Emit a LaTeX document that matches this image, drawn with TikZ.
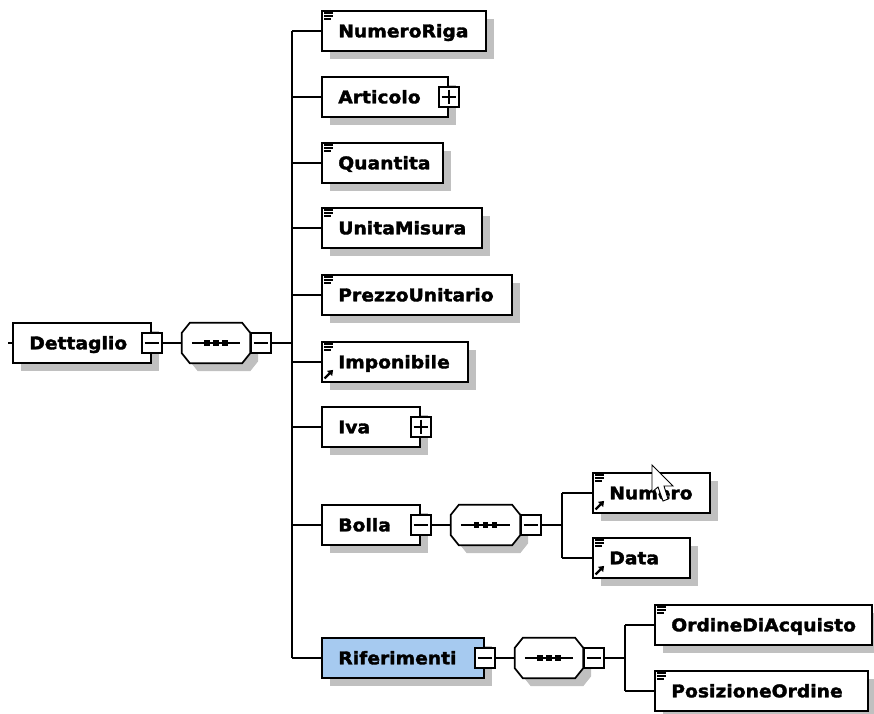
\documentclass[tikz,border=0pt]{standalone}
\usepackage{fontspec}
\setmainfont{DejaVu Sans}[FakeStretch=1.07, BoldFeatures={FakeBold=2}]
\usetikzlibrary{calc,shadows,arrows.meta}
\definecolor{shadowc}{RGB}{192,192,192}
\definecolor{selblue}{HTML}{A6CAF0}
\newcommand\octpath[3]{($(#1.north west)+(8+#2,#3)$) -- ($(#1.north east)+(-8+#2,#3)$) -- ($(#1.north east)+(#2,10+#3)$) -- ($(#1.south east)+(#2,-10+#3)$) -- ($(#1.south east)+(-8+#2,#3)$) -- ($(#1.south west)+(8+#2,#3)$) -- ($(#1.south west)+(#2,-10+#3)$) -- ($(#1.north west)+(#2,10+#3)$) -- cycle}
\newcommand\octo[1]{%
  \fill[shadowc] \octpath{#1}{8}{8};
  \filldraw[fill=white, draw=black, line width=1.7pt] \octpath{#1}{0}{0};
  \draw[line width=1.5pt] ($(#1.west)+(10,0)$) -- ($(#1.east)+(-10,0)$);
  \foreach \dx in {-9,0,9} \fill ($(#1.center)+(\dx-2.7,-2.7)$) rectangle ($(#1.center)+(\dx+2.7,2.7)$);
}
\newcommand\minusbox[2]{%
  \node[pmbox, #2] (#1) {};
  \draw[line width=1.4pt] ($(#1.west)+(3.5,0)$) -- ($(#1.east)+(-3.5,0)$);}
\newcommand\plusbox[2]{\minusbox{#1}{#2}
  \draw[line width=1.4pt] ($(#1.north)+(0,3.5)$) -- ($(#1.south)+(0,-3.5)$);}
\newcommand\elem[6]{% name, left, cy, width, text, extra style
  \node[elbox, minimum width=#4, #6] (#1) at (#2+#4/2, #3) {};
  \node[lbl, anchor=base west] (#1-t) at ($(#1.west)+(17,6.3)$) {#5};}
\newcommand\docicon[1]{\draw[line width=1.3pt] ($(#1.north west)+(3,3)$) -- +(9,0) ($(#1.north west)+(3,6)$) -- +(9,0) ($(#1.north west)+(3,9)$) -- +(7,0);}
\newcommand\reficon[1]{\draw[line width=2.3pt, -{Triangle[length=5pt,width=7pt]}] ($(#1.south west)+(3.5,-4.5)$) -- +(8.5,-8.5);}
\begin{document}
\begin{tikzpicture}[x=1pt, y=-1pt,
  elbox/.style={draw=black, line width=1.8pt, fill=white, minimum height=40, inner sep=0pt,
    drop shadow={shadow xshift=8pt, shadow yshift=-8pt, fill=shadowc, opacity=1}},
  lbl/.style={inner sep=0pt, font=\fontsize{17.5}{21}\selectfont\bfseries},
  pmbox/.style={draw=black, line width=1.6pt, fill=white, minimum size=20, inner sep=0pt},
  octbox/.style={minimum height=40, inner sep=0pt},
  conn/.style={line width=1.7pt, draw=black}]
\useasboundingbox (0,0) rectangle (874,713);
\fill[white] (0,0) rectangle (874,713);

% root
\coordinate (stub) at (8,343);
\elem{dett}{13}{343}{138}{Dettaglio}{}
\minusbox{dett-m}{at={(dett.east)}}
\node[octbox, minimum width=68] (o1) at (182+34,343) {};
\octo{o1}
\minusbox{o1-m}{anchor=west, at={(o1.east)}}
\coordinate (t1) at (292,31);
\coordinate (t2) at (292,658);

% children
\elem{nr}{322}{31}{164}{NumeroRiga}{}
\docicon{nr}
\elem{art}{322}{97}{126}{Articolo}{}
\plusbox{art-p}{at={(art.east)}}
\elem{qta}{322}{163}{121}{Quantita}{}
\docicon{qta}
\elem{um}{322}{228}{160}{UnitaMisura}{}
\docicon{um}
\elem{pu}{322}{295}{190}{PrezzoUnitario}{}
\docicon{pu}
\elem{imp}{322}{362}{146}{Imponibile}{}
\docicon{imp}\reficon{imp}
\elem{iva}{322}{427}{98}{Iva}{}
\plusbox{iva-p}{at={(iva.east)}}
\elem{bolla}{322}{525}{98}{Bolla}{}
\minusbox{bolla-m}{at={(bolla.east)}}
\node[octbox, minimum width=69] (o2) at (451+34.5,525) {};
\octo{o2}
\minusbox{o2-m}{anchor=west, at={(o2.east)}}
\coordinate (b1) at (562,493);
\elem{num}{593}{493}{117}{Numero}{}
\docicon{num}\reficon{num}
\elem{data}{593}{558}{97}{Data}{}
\docicon{data}\reficon{data}
\elem{rif}{322}{658}{162}{Riferimenti}{fill=selblue}
\minusbox{rif-m}{at={(rif.east)}}
\node[octbox, minimum width=68] (o3) at (515+34,658) {};
\octo{o3}
\minusbox{o3-m}{anchor=west, at={(o3.east)}}
\coordinate (r1) at (625,625);
\elem{oda}{655}{625}{217}{OrdineDiAcquisto}{}
\docicon{oda}
\elem{pos}{655}{691}{213}{PosizioneOrdine}{}
\docicon{pos}

% connectors
\draw[conn] (stub) -- (dett.west);
\draw[conn] (dett-m.east) -- (o1.west);
\draw[conn] (o1-m.east) -- (t1 |- o1-m.east);
\draw[conn] (t1) -- (t2);
\foreach \n in {nr,art,qta,um,pu,imp,iva,bolla,rif}
  \draw[conn] (t1 |- \n.west) -- (\n.west);
\draw[conn] (bolla-m.east) -- (o2.west);
\draw[conn] (o2-m.east) -- (b1 |- o2-m.east);
\draw[conn] (b1 |- num.west) -- (b1 |- data.west);
\draw[conn] (b1 |- num.west) -- (num.west);
\draw[conn] (b1 |- data.west) -- (data.west);
\draw[conn] (rif-m.east) -- (o3.west);
\draw[conn] (o3-m.east) -- (r1 |- o3-m.east);
\draw[conn] (r1 |- oda.west) -- (r1 |- pos.west);
\draw[conn] (r1 |- oda.west) -- (oda.west);
\draw[conn] (r1 |- pos.west) -- (pos.west);

% mouse pointer
\filldraw[fill=white, draw=black, line width=0.9pt, line join=miter]
  (652,465) -- (652,492) -- (658,487) -- (663,501) -- (668,499) -- (664,486) -- (673,486) -- cycle;
\end{tikzpicture}
\end{document}
